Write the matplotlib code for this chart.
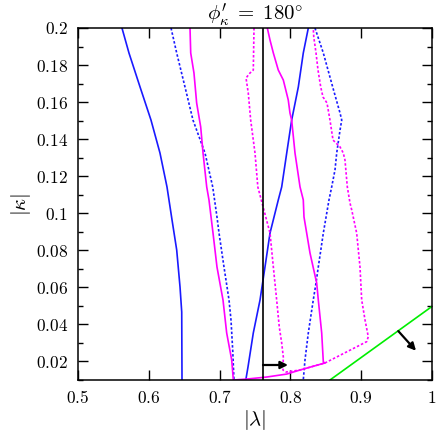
import matplotlib
matplotlib.use("Agg")
import matplotlib.pyplot as plt
from matplotlib.ticker import MultipleLocator, FuncFormatter

plt.rcParams['mathtext.fontset'] = 'cm'
plt.rcParams['font.family'] = 'serif'

# --- data -----------------------------------------------------------------
blue_a_x = [0.5621, 0.5720, 0.5876, 0.6031, 0.6158, 0.6257, 0.6328, 0.6394, 0.6441, 0.6465, 0.6469]
blue_a_y = [0.2, 0.1865, 0.1682, 0.1503, 0.1325, 0.1142, 0.0964, 0.0802, 0.0602, 0.0467, 0.01]

blue_dot_a_x = [0.6314, 0.6394, 0.6511, 0.6624, 0.6794, 0.6903, 0.6963, 0.6992, 0.7062, 0.7133, 0.7161, 0.7185, 0.7203]
blue_dot_a_y = [0.2, 0.1865, 0.1682, 0.1503, 0.1325, 0.1142, 0.098, 0.0893, 0.0710, 0.0532, 0.0424, 0.0262, 0.01]

blue_b_x = [0.7370, 0.7401, 0.7476, 0.7571, 0.7641, 0.7712, 0.7829, 0.7877, 0.7948, 0.8018, 0.8112, 0.8182, 0.8253]
blue_b_y = [0.01, 0.017, 0.0354, 0.0532, 0.0710, 0.0893, 0.1072, 0.1142, 0.1325, 0.1503, 0.1682, 0.1865, 0.2]

blue_dot_b_x = [0.8347, 0.8465, 0.8597, 0.8701, 0.8725, 0.8701, 0.8654, 0.8630, 0.8583, 0.8545,
                0.8465, 0.8394, 0.8362, 0.8323, 0.8253, 0.8206, 0.8182]
blue_dot_b_y = [0.2, 0.1865, 0.1682, 0.1541, 0.1503, 0.1449, 0.1325, 0.1234, 0.1142, 0.1072,
                0.0893, 0.0710, 0.0624, 0.0532, 0.0354, 0.0208, 0.01]

mag_x = [0.6582, 0.6592, 0.6638, 0.6676, 0.6733, 0.6766, 0.6818, 0.6850, 0.6907, 0.6963, 0.7048,
         0.7100, 0.7171, 0.7194, 0.7383, 0.7665, 0.7948, 0.8136, 0.8489,
         0.8465, 0.8442, 0.8394, 0.8371, 0.8277, 0.8230, 0.8192, 0.8182, 0.8136, 0.8065,
         0.8018, 0.7994, 0.7970, 0.7924, 0.7900, 0.7829, 0.7759, 0.7712, 0.7674]
mag_y = [0.2, 0.1865, 0.1757, 0.1595, 0.1466, 0.1325, 0.1142, 0.1072, 0.0893, 0.0710, 0.0532,
         0.0354, 0.0208, 0.01, 0.0105, 0.0116, 0.0132, 0.0154, 0.0192,
         0.0197, 0.0354, 0.0532, 0.0624, 0.0785, 0.0893, 0.0980, 0.1072, 0.1142, 0.1325,
         0.1503, 0.1541, 0.1611, 0.1682, 0.1719, 0.1773, 0.1865, 0.1935, 0.2]

mag_dot_x = [0.7486, 0.7476, 0.7429, 0.7373, 0.7405, 0.7439, 0.7500, 0.7540, 0.7600, 0.7712,
             0.7759, 0.7806, 0.7843, 0.7877, 0.7900, 0.7895, 0.7938, 0.8136, 0.8489,
             0.9078, 0.9100, 0.9054, 0.9007, 0.8983, 0.8936, 0.8866, 0.8842, 0.8804, 0.8771,
             0.8747, 0.8701, 0.8602, 0.8559, 0.8517, 0.8460, 0.8428, 0.8390, 0.8362, 0.8330, 0.8323]
mag_dot_y = [0.2, 0.1773, 0.1757, 0.1730, 0.1649, 0.1503, 0.1325, 0.1142, 0.1055, 0.0893,
             0.0710, 0.0532, 0.0386, 0.0300, 0.0224, 0.0154, 0.0143, 0.0154, 0.0192,
             0.0307, 0.0334, 0.0424, 0.0532, 0.0710, 0.0893, 0.1018, 0.1055, 0.1142, 0.1287,
             0.1325, 0.1358, 0.1395, 0.1503, 0.1595, 0.1628, 0.1682, 0.1773, 0.1865, 0.1951, 0.2]

green_x = [0.8559, 0.9996]
green_y = [0.01, 0.0496]

vline_x = 0.7613
arrow_h = [(0.7613, 0.0181), (0.7966, 0.0181)]
arrow_d = [(0.9524, 0.0364), (0.9774, 0.0258)]

# --- figure ----------------------------------------------------------------
fig = plt.figure(figsize=(4.36, 4.36), dpi=100)
ax = fig.add_axes([78 / 436, 1 - 380 / 436, 354 / 436, 352 / 436])

blue = '#1a1aff'
mag = '#ff00ff'
lw = 1.2
dots = (0, (1.5, 1.2))

ax.plot(blue_a_x, blue_a_y, color=blue, lw=lw)
ax.plot(blue_dot_a_x, blue_dot_a_y, color=blue, lw=lw, linestyle=dots)
ax.plot(blue_b_x, blue_b_y, color=blue, lw=lw)
ax.plot(blue_dot_b_x, blue_dot_b_y, color=blue, lw=lw, linestyle=dots)
ax.plot(mag_x, mag_y, color=mag, lw=lw)
ax.plot(mag_dot_x, mag_dot_y, color=mag, lw=lw, linestyle=dots)
ax.plot(green_x, green_y, color='#00ee00', lw=lw)
ax.axvline(vline_x, color='k', lw=1.2)

for start, end in (arrow_h, arrow_d):
    ax.annotate('', xy=end, xytext=start,
                arrowprops=dict(arrowstyle='-|>', color='k', lw=1.6,
                                mutation_scale=11, shrinkA=0, shrinkB=0))

ax.set_xlim(0.5, 1.0)
ax.set_ylim(0.01, 0.2)
ax.xaxis.set_major_locator(MultipleLocator(0.1))
ax.yaxis.set_major_locator(MultipleLocator(0.02))
ax.yaxis.set_minor_locator(MultipleLocator(0.01))

fmt = FuncFormatter(lambda v, p: '$%s$' % ('%g' % round(v, 3)))
ax.xaxis.set_major_formatter(fmt)
ax.yaxis.set_major_formatter(fmt)

ax.tick_params(which='both', direction='in', top=True, right=True, labelsize=12.5, width=1)
ax.tick_params(which='major', length=7, pad=7)
ax.tick_params(which='minor', length=3.5)
for s in ax.spines.values():
    s.set_linewidth(1.1)

ax.set_xlabel(r'$|\lambda|$', fontsize=15, labelpad=1)
ax.set_ylabel(r'$|\kappa|$', fontsize=15, labelpad=2)
ax.set_title(r"$\phi^{\prime}_{\kappa}\;=\;180^{\circ}$", fontsize=15, pad=3)

fig.savefig('out.png', dpi=100)
